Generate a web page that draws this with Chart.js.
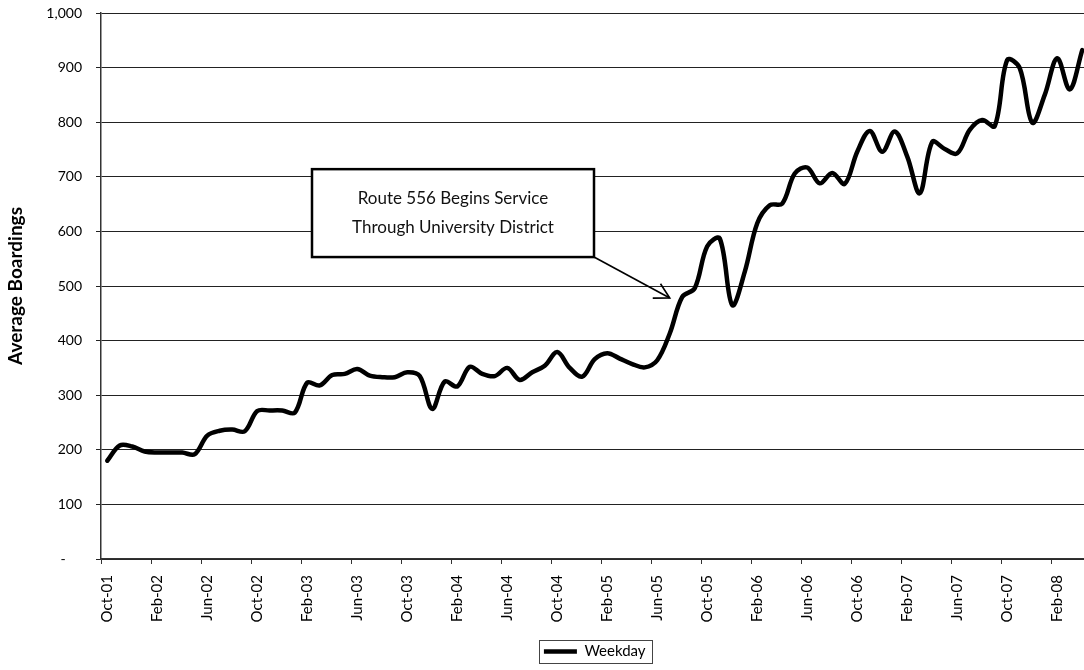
<!DOCTYPE html>
<html>
<head>
<meta charset="utf-8">
<script src="https://cdn.jsdelivr.net/npm/chart.js@4.4.0/dist/chart.umd.min.js"></script>
<style>
  html, body { margin: 0; padding: 0; background: #fff; overflow: hidden; }
  #wrap { width: 1192px; height: 670px; }
</style>
</head>
<body>
<div id="wrap"><canvas id="boardingsChart" width="1192" height="670"></canvas></div>
<script>
// Average weekday boardings per month, Oct-01 through Apr-08
const monthNames = ['Jan', 'Feb', 'Mar', 'Apr', 'May', 'Jun', 'Jul', 'Aug', 'Sep', 'Oct', 'Nov', 'Dec'];
const startMonth = 9;   // October
const startYear = 2001;

const weekday = [
  180, 208, 206, 197, 195, 195, 195, 192, 226, 235, 237, 234,
  271, 272, 272, 268, 323, 318, 337, 339, 348, 336, 333, 333,
  342, 335, 275, 325, 316, 352, 339, 335, 350, 328, 342, 354,
  379, 350, 334, 366, 377, 367, 357, 351, 364, 413, 480, 496,
  573, 587, 465, 526, 615, 648, 651, 706, 717, 688, 707, 687,
  746, 784, 746, 783, 737, 670, 764, 751, 743, 786, 804, 793,
  914, 899, 799, 850, 917, 860, 932
];

const months = weekday.map((_, i) => {
  const m = startMonth + i;
  const yy = (startYear + Math.floor(m / 12)) % 100;
  return monthNames[m % 12] + '-' + String(yy).padStart(2, '0');
});

const yMin = 0, yMax = 1000, yStep = 100;
const labelEvery = 4;

// callout text and where it sits (category index / boardings value)
const noteLines = ['Route 556 Begins Service', 'Through University District'];
const noteBox = { fromIndex: 16.38, toIndex: 38.94, topValue: 714, bottomValue: 553 };
const noteTarget = { index: 45, value: 478 };

Chart.defaults.font.family = 'Lato, "Open Sans", sans-serif';
Chart.defaults.color = '#000';

const callout = {
  id: 'callout',
  afterDatasetsDraw(chart) {
    const { ctx, scales: { x, y } } = chart;
    const L = x.getPixelForValue(noteBox.fromIndex);
    const R = x.getPixelForValue(noteBox.toIndex);
    const T = y.getPixelForValue(noteBox.topValue);
    const B = y.getPixelForValue(noteBox.bottomValue);
    ctx.save();
    ctx.fillStyle = '#fff';
    ctx.fillRect(L, T, R - L, B - T);
    ctx.strokeStyle = '#000';
    ctx.lineWidth = 2.5;
    ctx.strokeRect(L, T, R - L, B - T);

    ctx.fillStyle = '#111';
    ctx.font = '17px Lato, "Open Sans", sans-serif';
    ctx.textAlign = 'center';
    ctx.textBaseline = 'middle';
    noteLines.forEach((t, k) => ctx.fillText(t, (L + R) / 2, (T + B) / 2 - 14.5 + k * 29));

    // pointer from the box corner to the start of Route 556
    const tx = x.getPixelForValue(noteTarget.index);
    const ty = y.getPixelForValue(noteTarget.value);
    ctx.lineWidth = 1.6;
    ctx.beginPath();
    ctx.moveTo(R, B);
    ctx.lineTo(tx, ty);
    ctx.stroke();
    const ang = Math.atan2(ty - B, tx - R);
    const head = 17, spread = 0.5;
    ctx.beginPath();
    ctx.moveTo(tx - head * Math.cos(ang - spread), ty - head * Math.sin(ang - spread));
    ctx.lineTo(tx, ty);
    ctx.lineTo(tx - head * Math.cos(ang + spread), ty - head * Math.sin(ang + spread));
    ctx.stroke();
    ctx.restore();
  }
};

// thin frame round the legend entry
const legendFrame = {
  id: 'legendFrame',
  afterDraw(chart) {
    const hb = chart.legend.legendHitBoxes[0];
    if (!hb) return;
    const { ctx } = chart;
    const cy = hb.top + hb.height / 2;
    ctx.save();
    ctx.strokeStyle = '#444';
    ctx.lineWidth = 1;
    ctx.strokeRect(Math.round(hb.left - 5) + 0.5, Math.round(cy - 11.5) + 0.5,
                   Math.round(hb.width + 11), 23);
    ctx.restore();
  }
};

new Chart(document.getElementById('boardingsChart').getContext('2d'), {
  type: 'line',
  data: {
    labels: months,
    datasets: [{
      label: 'Weekday',
      data: weekday,
      borderColor: '#000',
      backgroundColor: '#000',
      borderWidth: 4.5,
      borderCapStyle: 'round',
      borderJoinStyle: 'round',
      pointRadius: 0,
      tension: 0.35,
      fill: false
    }]
  },
  options: {
    responsive: false,
    animation: false,
    layout: { padding: { top: 13, left: 0, right: 103.5, bottom: 1 } },
    scales: {
      x: {
        offset: true,
        grid: {
          offset: true,
          drawOnChartArea: false,
          drawTicks: true,
          tickLength: 5,
          color: ctx => ctx.index % labelEvery === 0 ? '#333' : 'rgba(0,0,0,0)'
        },
        border: { color: '#333', width: 1.5 },
        ticks: {
          autoSkip: false,
          minRotation: 90,
          maxRotation: 90,
          padding: 11,
          color: '#000',
          font: { size: 15 },
          callback: function (v, i) { return i % labelEvery === 0 ? this.getLabelForValue(v) : ''; }
        },
        afterFit: s => { s.height = 75; }
      },
      y: {
        min: yMin,
        max: yMax,
        ticks: {
          stepSize: yStep,
          padding: 14,
          color: '#000',
          font: { size: 14 },
          callback: v => v === 0 ? '-\u2007\u2007' : v.toLocaleString('en-US')
        },
        grid: { color: '#222', lineWidth: 1, tickLength: 5 },
        border: { color: '#333', width: 1.5 },
        title: {
          display: true,
          text: 'Average Boardings',
          color: '#000',
          font: { size: 19, weight: 'bold' },
          padding: { top: 4.5, bottom: 0 }
        },
        afterFit: s => {
          s.width = 101;
          // label padding would otherwise push the plot top down
          s.paddingTop = 0;
          s.paddingBottom = 0;
        }
      }
    },
    plugins: {
      tooltip: { enabled: false },
      legend: {
        position: 'bottom',
        fullSize: false,
        labels: {
          usePointStyle: true,
          pointStyle: 'line',
          pointStyleWidth: 33,
          color: '#000',
          font: { size: 15 },
          padding: 10
        }
      }
    }
  },
  plugins: [callout, legendFrame]
});
</script>
</body>
</html>
